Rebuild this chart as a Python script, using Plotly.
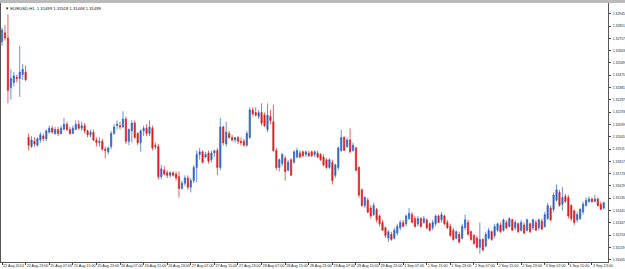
import plotly.graph_objects as go

# ---- data (EURUSD H1) ----
open_ = [1.3273,1.3280,1.3276,1.3238,1.3242,1.3246,1.3245,1.3248,1.3250,
 1.3200,1.3193,1.3197,1.3194,1.3198,1.3201,1.3199,1.3204,1.3207,1.3203,1.3206,1.3203,1.3206,1.3210,1.3206,1.3203,
 1.3206,1.3210,1.3207,1.3209,1.3205,1.3202,1.3204,1.3198,1.3196,1.3197,1.3191,1.3189,1.3193,1.3203,1.3209,1.3209,
 1.3208,1.3214,1.3197,1.3205,1.3211,1.3203,1.3196,1.3205,1.3207,1.3203,1.3207,1.3194,1.3193,1.3170,1.3175,1.3173,
 1.3171,1.3173,1.3172,1.3170,1.3161,1.3165,1.3169,1.3162,1.3167,1.3177,1.3187,1.3189,1.3185,1.3188,1.3183,1.3188,
 1.3190,1.3177,1.3208,1.3195,1.3203,1.3200,1.3198,1.3200,1.3197,1.3197,1.3194,1.3200,1.3221,1.3219,1.3216,1.3219,
 1.3217,1.3206,1.3216,1.3212,1.3190,1.3177,1.3180,1.3184,1.3175,1.3183,1.3181,1.3185,1.3188,1.3189,1.3187,1.3188,
 1.3189,1.3187,1.3188,1.3187,1.3185,1.3183,1.3177,1.3181,1.3171,1.3177,1.3190,1.3200,1.3193,1.3198,1.3190,1.3192,
 1.3177,1.3160,1.3148,1.3152,1.3146,1.3141,1.3145,1.3140,1.3135,1.3131,1.3123,1.3126,1.3123,1.3127,1.3131,1.3135,
 1.3134,1.3138,1.3141,1.3138,1.3134,1.3138,1.3135,1.3137,1.3134,1.3131,1.3134,1.3140,1.3137,1.3140,1.3135,1.3132,
 1.3129,1.3123,1.3126,1.3123,1.3131,1.3135,1.3128,1.3125,1.3123,1.3116,1.3122,1.3117,1.3123,1.3128,1.3125,1.3129,
 1.3133,1.3129,1.3135,1.3132,1.3137,1.3131,1.3134,1.3129,1.3133,1.3129,1.3134,1.3131,1.3135,1.3131,1.3136,1.3132,
 1.3138,1.3146,1.3145,1.3152,1.3158,1.3149,1.3155,1.3154,1.3148,1.3144,1.3137,1.3138,1.3143,1.3148,1.3151,1.3153,
 1.3151,1.3153,1.3149,1.3146]
high = [1.3284,1.3286,1.3294,1.3252,1.3250,1.3248,1.3270,1.3256,1.3255,
 1.3203,1.3201,1.3200,1.3200,1.3204,1.3203,1.3206,1.3209,1.3209,1.3208,1.3208,1.3209,1.3215,1.3212,1.3208,1.3209,
 1.3213,1.3213,1.3212,1.3211,1.3206,1.3206,1.3206,1.3200,1.3200,1.3199,1.3193,1.3193,1.3205,1.3210,1.3213,1.3212,
 1.3220,1.3216,1.3207,1.3213,1.3213,1.3204,1.3206,1.3209,1.3210,1.3213,1.3209,1.3196,1.3195,1.3179,1.3178,1.3175,
 1.3174,1.3174,1.3174,1.3174,1.3167,1.3171,1.3171,1.3169,1.3179,1.3190,1.3192,1.3190,1.3189,1.3190,1.3190,1.3190,
 1.3192,1.3215,1.3209,1.3212,1.3205,1.3202,1.3200,1.3201,1.3200,1.3199,1.3205,1.3223,1.3223,1.3223,1.3221,1.3226,
 1.3219,1.3226,1.3221,1.3225,1.3192,1.3184,1.3188,1.3186,1.3183,1.3184,1.3190,1.3192,1.3190,1.3190,1.3190,1.3190,
 1.3190,1.3190,1.3190,1.3188,1.3187,1.3184,1.3184,1.3183,1.3180,1.3193,1.3206,1.3201,1.3200,1.3207,1.3196,1.3193,
 1.3178,1.3161,1.3155,1.3154,1.3148,1.3150,1.3146,1.3141,1.3137,1.3132,1.3129,1.3128,1.3131,1.3134,1.3137,1.3137,
 1.3141,1.3146,1.3143,1.3140,1.3140,1.3139,1.3140,1.3138,1.3135,1.3137,1.3141,1.3141,1.3143,1.3141,1.3137,1.3134,
 1.3131,1.3129,1.3128,1.3134,1.3141,1.3137,1.3129,1.3126,1.3125,1.3135,1.3123,1.3128,1.3131,1.3129,1.3134,1.3135,
 1.3135,1.3138,1.3137,1.3139,1.3138,1.3137,1.3135,1.3137,1.3135,1.3138,1.3135,1.3138,1.3137,1.3138,1.3138,1.3143,
 1.3150,1.3148,1.3158,1.3164,1.3160,1.3162,1.3157,1.3156,1.3149,1.3145,1.3143,1.3146,1.3151,1.3154,1.3155,1.3154,
 1.3156,1.3154,1.3151,1.3151]
low = [1.3270,1.3274,1.3226,1.3229,1.3239,1.3242,1.3231,1.3244,1.3243,
 1.3190,1.3192,1.3193,1.3193,1.3196,1.3197,1.3197,1.3203,1.3203,1.3202,1.3201,1.3202,1.3206,1.3205,1.3202,1.3203,
 1.3206,1.3206,1.3205,1.3203,1.3200,1.3200,1.3197,1.3193,1.3193,1.3190,1.3184,1.3187,1.3191,1.3202,1.3206,1.3206,
 1.3207,1.3195,1.3194,1.3196,1.3199,1.3194,1.3189,1.3201,1.3201,1.3201,1.3190,1.3191,1.3168,1.3168,1.3171,1.3169,
 1.3169,1.3170,1.3167,1.3154,1.3160,1.3163,1.3160,1.3158,1.3165,1.3166,1.3183,1.3180,1.3184,1.3180,1.3181,1.3185,
 1.3171,1.3175,1.3194,1.3193,1.3199,1.3197,1.3196,1.3195,1.3194,1.3193,1.3193,1.3199,1.3216,1.3216,1.3214,1.3209,
 1.3208,1.3204,1.3210,1.3189,1.3175,1.3174,1.3178,1.3167,1.3174,1.3171,1.3180,1.3184,1.3184,1.3185,1.3185,1.3185,
 1.3185,1.3185,1.3184,1.3182,1.3178,1.3176,1.3176,1.3164,1.3169,1.3175,1.3189,1.3190,1.3192,1.3188,1.3189,1.3174,
 1.3154,1.3147,1.3146,1.3142,1.3138,1.3140,1.3135,1.3132,1.3129,1.3123,1.3120,1.3121,1.3122,1.3125,1.3129,1.3132,
 1.3132,1.3137,1.3135,1.3131,1.3132,1.3131,1.3134,1.3130,1.3128,1.3129,1.3132,1.3135,1.3135,1.3133,1.3130,1.3124,
 1.3121,1.3122,1.3119,1.3122,1.3129,1.3125,1.3121,1.3118,1.3115,1.3111,1.3113,1.3116,1.3122,1.3121,1.3123,1.3128,
 1.3127,1.3128,1.3130,1.3131,1.3129,1.3129,1.3127,1.3128,1.3126,1.3128,1.3127,1.3129,1.3129,1.3129,1.3129,1.3131,
 1.3137,1.3136,1.3143,1.3151,1.3147,1.3144,1.3150,1.3138,1.3136,1.3133,1.3135,1.3137,1.3141,1.3147,1.3150,1.3150,
 1.3151,1.3147,1.3145,1.3145]
close = [1.3282,1.3276,1.3236,1.3245,1.3247,1.3245,1.3250,1.3252,1.3244,
 1.3194,1.3198,1.3195,1.3199,1.3202,1.3199,1.3205,1.3207,1.3204,1.3206,1.3203,1.3207,1.3210,1.3206,1.3203,1.3207,
 1.3210,1.3207,1.3209,1.3205,1.3202,1.3204,1.3198,1.3196,1.3197,1.3191,1.3190,1.3192,1.3203,1.3208,1.3210,1.3208,
 1.3214,1.3197,1.3206,1.3211,1.3200,1.3196,1.3205,1.3207,1.3203,1.3208,1.3192,1.3193,1.3170,1.3176,1.3172,1.3171,
 1.3173,1.3171,1.3169,1.3161,1.3165,1.3169,1.3162,1.3167,1.3177,1.3187,1.3189,1.3181,1.3187,1.3182,1.3188,1.3190,
 1.3177,1.3208,1.3196,1.3204,1.3200,1.3198,1.3200,1.3197,1.3196,1.3194,1.3203,1.3221,1.3218,1.3217,1.3219,1.3211,
 1.3209,1.3217,1.3213,1.3190,1.3177,1.3183,1.3187,1.3174,1.3181,1.3171,1.3189,1.3190,1.3185,1.3186,1.3189,1.3186,
 1.3186,1.3189,1.3185,1.3183,1.3179,1.3177,1.3183,1.3167,1.3179,1.3192,1.3200,1.3190,1.3198,1.3189,1.3194,1.3175,
 1.3156,1.3148,1.3154,1.3143,1.3140,1.3148,1.3137,1.3134,1.3129,1.3125,1.3128,1.3122,1.3129,1.3132,1.3135,1.3132,
 1.3140,1.3142,1.3135,1.3132,1.3138,1.3132,1.3138,1.3131,1.3129,1.3135,1.3140,1.3135,1.3141,1.3134,1.3131,1.3125,
 1.3122,1.3128,1.3120,1.3132,1.3137,1.3126,1.3122,1.3119,1.3116,1.3122,1.3114,1.3126,1.3129,1.3122,1.3132,1.3134,
 1.3128,1.3137,1.3131,1.3138,1.3129,1.3135,1.3128,1.3135,1.3127,1.3137,1.3128,1.3137,1.3129,1.3137,1.3130,1.3141,
 1.3148,1.3137,1.3156,1.3160,1.3148,1.3154,1.3151,1.3140,1.3138,1.3135,1.3141,1.3145,1.3149,1.3152,1.3153,1.3151,
 1.3153,1.3148,1.3145,1.3150]

bar_index = list(range(len(close)))

x_tick_bars = [0, 8, 16, 24, 32, 40, 48, 56, 64, 72, 80, 88, 96, 104, 112, 120,
               128, 136, 144, 152, 160, 168, 176, 184, 192, 200]
x_tick_labels = ["22 Aug 2014", "22 Aug 23:00", "25 Aug 07:00", "25 Aug 15:00", "25 Aug 23:00",
                 "26 Aug 07:00", "26 Aug 15:00", "26 Aug 23:00", "27 Aug 07:00", "27 Aug 15:00",
                 "27 Aug 23:00", "28 Aug 07:00", "28 Aug 15:00", "28 Aug 23:00", "29 Aug 07:00",
                 "29 Aug 15:00", "29 Aug 23:00", "1 Sep 07:00", "1 Sep 15:00", "1 Sep 23:00",
                 "2 Sep 07:00", "2 Sep 15:00", "2 Sep 23:00", "3 Sep 07:00", "3 Sep 15:00", "3 Sep 23:00"]
y_tick_values = [1.32945, 1.32851, 1.32757, 1.32663, 1.32569, 1.32475, 1.32381, 1.32287, 1.32193,
                 1.32099, 1.32005, 1.31911, 1.31817, 1.31723, 1.31629, 1.31535, 1.31441, 1.31347,
                 1.31253, 1.31159, 1.31065]
y_tick_labels = ["%.5f" % v for v in y_tick_values]
title_text = "EURUSD,H1  1.31499 1.31528 1.31468 1.31499"

BLUE = "#2B63C6"
RED = "#D8201C"

fig = go.Figure()
fig.add_trace(go.Candlestick(
    x=bar_index, open=open_, high=high, low=low, close=close,
    increasing=dict(fillcolor=BLUE, line=dict(color=BLUE, width=0.7)),
    decreasing=dict(fillcolor=RED, line=dict(color=RED, width=0.7)),
    whiskerwidth=0, showlegend=False, hoverinfo="skip",
))

xfnt = dict(family="Liberation Sans, Arial, sans-serif", size=3.7, color="#222222")
yfnt = dict(family="Liberation Sans, Arial, sans-serif", size=3.4, color="#222222")
fig.update_layout(
    width=625, height=269,
    margin=dict(l=1, r=17, t=3, b=7),
    paper_bgcolor="white", plot_bgcolor="white",
    showlegend=False, boxgap=0.4,
    font=xfnt,
    xaxis=dict(
        range=[-0.35, 205.45], rangeslider=dict(visible=False),
        tickmode="array", tickvals=x_tick_bars, ticktext=x_tick_labels,
        tickangle=0, automargin=False,
        ticks="outside", ticklen=2, tickcolor="#444", tickwidth=1,
        ticklabelposition="outside right", ticklabelstandoff=0,
        showgrid=False, zeroline=False,
        showline=True, linecolor="#555", linewidth=1, mirror=False,
        tickfont=xfnt, fixedrange=True,
    ),
    yaxis=dict(
        range=[1.31048, 1.33027], side="right", automargin=False,
        tickmode="array", tickvals=y_tick_values, ticktext=y_tick_labels,
        ticks="outside", ticklen=2, tickcolor="#444", tickwidth=1,
        ticklabelstandoff=1,
        showgrid=False, zeroline=False,
        showline=True, linecolor="#555", linewidth=1, mirror=True,
        tickfont=yfnt, fixedrange=True,
    ),
    annotations=[dict(
        text="▼ " + title_text, xref="paper", yref="paper", x=0.004, y=0.995,
        xanchor="left", yanchor="top", showarrow=False,
        font=dict(family="Liberation Sans, Arial, sans-serif", size=4.2, color="#111"),
    )],
    shapes=[dict(type="rect", xref="paper", yref="paper", x0=-0.01, x1=1.04,
                 y0=1.0, y1=1.02, fillcolor="#BBBBBB", line=dict(width=0), layer="above")],
)

fig.write_html("out.html")
